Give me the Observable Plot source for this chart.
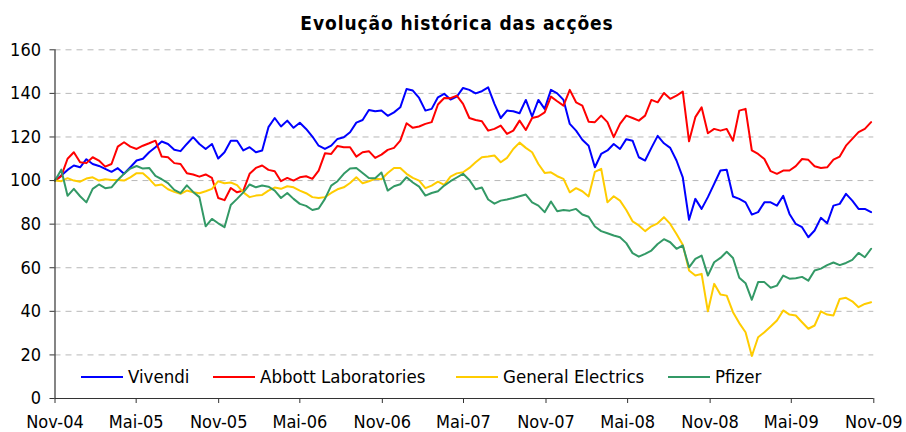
<!DOCTYPE html>
<html><head><meta charset="utf-8">
<script src="https://cdn.jsdelivr.net/npm/d3@7"></script>
<script src="https://cdn.jsdelivr.net/npm/@observablehq/plot@0.6"></script>
<style>
html,body{margin:0;padding:0;background:#fff;}
#wrap{position:relative;width:906px;height:432px;overflow:hidden;font-family:"DejaVu Sans Condensed","DejaVu Sans",sans-serif;color:#000;}
#title{position:absolute;left:4px;top:13px;width:906px;text-align:center;font-weight:bold;font-size:19px;line-height:20px;letter-spacing:0.9px;}
#chart{position:absolute;left:0;top:40px;}
.leg{position:absolute;top:366px;height:22px;line-height:22px;font-size:18.5px;white-space:nowrap;}
.leg .sw{display:inline-block;width:42px;height:0;border-top:2px solid;vertical-align:middle;margin-right:5px;position:relative;top:-1px;}
</style></head><body>
<div id="wrap"><div id="title">Evolução histórica das acções</div><div id="chart"></div></div>
<script>
// ---- data ----
const seriesNames = ["Vivendi", "Abbott Laboratories", "General Electrics", "Pfizer"];
const startDate = "2004-11-01";   // first observation, then one every 14 days
const stepDays = 14;
const xTickDates = ["2004-11-01","2005-05-01","2005-11-01","2006-05-01","2006-11-01","2007-05-01","2007-11-01","2008-05-01","2008-11-01","2009-05-01","2009-11-01"];
const xTickLabels = ["Nov-04","Mai-05","Nov-05","Mai-06","Nov-06","Mai-07","Nov-07","Mai-08","Nov-08","Mai-09","Nov-09"];
const yTicks = [0,20,40,60,80,100,120,140,160];

const vivendi = [
100,102.3,104.9,106.9,106.1,109.8,107.6,106.7,105.4,104,
105.7,103.1,106.1,109.2,110,113,115.3,117.9,116.8,114.1,
113.5,116.8,119.9,116.8,114.5,116.8,110.1,113,118.3,118.3,
113.8,115.3,113,113.8,124.5,128.7,124.8,127.5,124.2,126.5,
123.7,120.2,116,114.5,116,119.1,119.9,122.2,126.6,127.8,
132.4,131.8,132.1,129.7,131.3,133.6,142,141.3,137.9,132.1,
132.9,138.2,139.8,137.2,138.5,142.5,141.6,140,141,142.8,
135.2,128.7,132.1,131.8,130.9,137,129.4,137,132.9,141.6,
140,137,126,122.9,118.7,116,106.1,112.2,113.8,116.8,
114.5,119,118.3,110.7,109.2,115,120.5,117.1,115,109.2,
101.5,82,91.6,87,92.4,98.5,104.6,105,92.7,91.6,
90,84.4,85.5,90,90,88.5,93,84.7,80.1,78.6,
74,77.1,82.9,80.4,88.5,89.3,93.9,90.8,87,87,
85.5];
const abbott = [
100,102,110,113,108.4,108,110.7,109.2,106.4,107.6,
115.6,117.6,115.6,114.5,116,117.1,118.3,111,110.7,108,
107.6,103.4,102.8,101.8,102.8,101.2,92,91,96.6,94.6,
95.4,103.1,105.8,106.9,104.9,104.3,99.7,101.2,100,101.5,
102,100.8,104.6,112.5,112.2,115.9,115.3,115.3,111,113,
113.5,110.4,111.9,114.1,115,118.3,126.3,124.2,124.8,126,
126.8,134.9,137.9,137.8,139,135.2,128.7,127.8,127.2,122.9,
123.7,125.2,121.4,122.9,127.5,123.2,128.7,129.4,131.3,138.5,
136.4,134.4,141.6,135.9,134.4,127,126.8,129.8,126.8,119.9,
126,129.8,128.7,127.5,129.8,137,135.9,140.2,137.5,139,
140.8,118,129.1,133.6,121.7,123.7,122.9,123.7,118.3,132.1,
132.9,113.8,112.2,109.9,104.3,103.1,104.6,104.6,106.6,109.9,
109.5,106.6,105.8,106.1,109.6,111,116,119.1,122.2,123.7,
126.8];
const generalElectrics = [
100,99.7,101.1,100,99.5,100.9,101.5,100,100.6,100.3,
100.3,100,101.5,103.4,103.4,100.8,97.7,98.2,96,94.8,
93.9,95.4,94.6,94.2,95.1,96.2,99.7,98.8,99.1,97.9,
94.6,92.4,93.1,93.4,95.4,96.8,96.2,97.4,96.9,95.4,
94.2,92.4,92,92.4,94.3,96,96.9,98.9,101.5,98.8,
99.7,100.8,100.6,103.5,105.8,105.8,103.1,101.2,100,96.5,
97.7,99.5,98,101.8,103.3,103.8,105.8,108.4,110.7,111,
111.5,108.4,110.4,114.5,117.4,115,113,107.6,103.5,103.8,
102,100.8,94.6,96.5,95.1,92.7,104,105.4,90,92.8,
90.8,86.5,81.3,79.4,76.8,79,80.4,83.2,80.1,75.5,
70.6,58.7,56.4,57.2,40,52.6,47.7,47.2,39.6,34.6,
30.4,19.5,28.1,30.4,33,35.8,40.4,38.5,38.1,35,
32,33.5,40,38.5,38.1,45.7,46.2,44.6,41.9,43.4,
44.2];
const pfizer = [
100,105,93,96.2,92.8,90,96.2,98.2,96.5,96.9,
100.3,103.1,105.5,106.7,105.5,105.8,102.1,100.6,98.8,95.7,
94.2,97.8,94.8,92.4,79,82.4,80.4,78.6,88.8,91.6,
94.6,98.2,96.9,97.7,97.2,95.4,92,94.3,91.6,89.3,
88.4,86.5,87.2,91.6,97.7,99.7,103.1,105.5,105.8,103.5,
101.2,101.1,103.7,95.4,97.4,98.3,101.5,99.1,97.2,93.1,
94.3,95.1,97.7,99.7,101.4,103.1,100.3,96,96.8,91.3,
89.4,90.8,91.3,92,92.8,93.6,90,88.5,85.5,90.4,
85.9,86.5,86.2,87,84.4,83.4,78.9,76.8,75.8,74.8,
74,71.3,66.7,65.1,66.4,67.9,70.9,73.1,71.7,68.7,
70.2,60.2,64.1,65.6,56.4,62.5,64.5,67.3,64.5,55.4,
52.9,45.3,53.4,53.4,50.8,51.8,56.4,55,55.2,55.8,
54.1,58.7,59.6,61.2,62.4,61.2,62.2,63.6,66.8,64.8,
68.7];

// ---- styles ----
const colors = ["#0000FF", "#FF0000", "#FFCC00", "#339966"];
const FONT = '"DejaVu Sans Condensed","DejaVu Sans",sans-serif';

const parse = d3.timeParse("%Y-%m-%d");
const t0 = parse(startDate);
const tickDates = xTickDates.map(parse);
const allValues = [vivendi, abbott, generalElectrics, pfizer];
const rows = allValues.map((vals, s) => vals.map((v, i) => ({
  series: seriesNames[s], date: d3.timeDay.offset(t0, i * stepDays), value: v
})));
const fmtX = d => { const k = tickDates.findIndex(t => +t === +d); return k >= 0 ? xTickLabels[k] : ""; };

const W = 906, H = 392;
const chart = Plot.plot({
  width: W, height: H,
  marginLeft: 54.5, marginRight: 32.7, marginTop: 9.3, marginBottom: 34,
  style: {fontFamily: FONT, fontSize: "18px", color: "#000", background: "#fff", overflow: "visible"},
  x: {type: "time", domain: [tickDates[0], tickDates[tickDates.length - 1]]},
  y: {domain: [0, 160]},
  marks: [
    Plot.gridY(yTicks.filter(v => v > 0), {stroke: "#b8b8b8", strokeOpacity: 1, strokeWidth: 1, strokeDasharray: "6,5"}),
    ...rows.map((r, s) => Plot.line(r, {x: "date", y: "value", stroke: colors[s], strokeWidth: 2, strokeLinejoin: "round"})),
    Plot.ruleX([tickDates[0]], {stroke: "#333", strokeWidth: 1.2}),
    Plot.ruleY([0], {stroke: "#333", strokeWidth: 1.2}),
    Plot.axisY({ticks: yTicks, tickSize: 5, tickPadding: 9, label: null, stroke: "#333", fill: "#000"}),
    Plot.axisX({ticks: tickDates, tickFormat: fmtX, tickSize: 5, tickPadding: 12, label: null, stroke: "#333", fill: "#000"})
  ]
});
document.getElementById("chart").appendChild(chart);

// legend (inside plot area, bottom)
const legLeft = [81, 213, 456, 668];
const wrap = document.getElementById("wrap");
seriesNames.forEach((name, s) => {
  const d = document.createElement("div");
  d.className = "leg";
  d.style.left = legLeft[s] + "px";
  const sw = document.createElement("span");
  sw.className = "sw";
  sw.style.borderTopColor = colors[s];
  d.appendChild(sw);
  d.appendChild(document.createTextNode(name));
  wrap.appendChild(d);
});
</script>
</body></html>
